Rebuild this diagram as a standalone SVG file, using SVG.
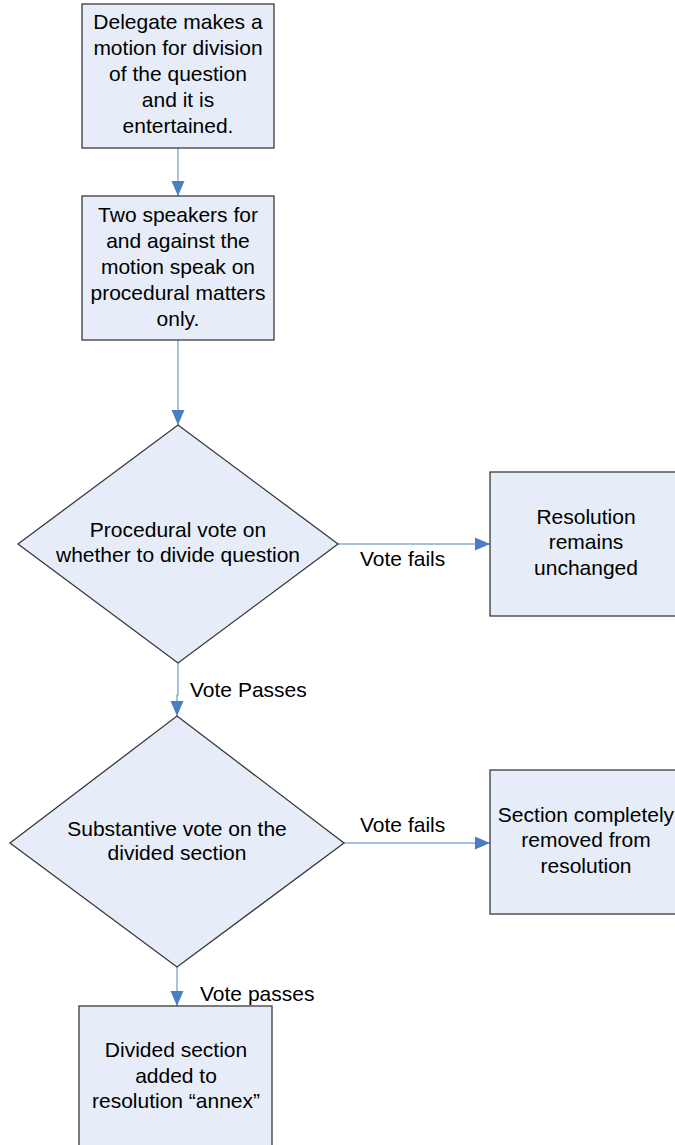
<svg xmlns="http://www.w3.org/2000/svg" width="675" height="1145" viewBox="0 0 675 1145">
<defs>
<style>
.box{fill:#E6EDF8;stroke:#3A3A3A;stroke-width:1.3}
.t{font-family:"Liberation Sans",Arial,sans-serif;font-size:21px;fill:#000;text-anchor:middle}
.l{font-family:"Liberation Sans",Arial,sans-serif;font-size:21px;fill:#000}
.v{fill:none;stroke:#95B3D7;stroke-width:1.6}
.h{fill:none;stroke:#4F81BD;stroke-width:1.2}
</style>
<marker id="ah" markerUnits="userSpaceOnUse" markerWidth="16" markerHeight="14" refX="15" refY="6.5" orient="auto">
<path d="M0,0 L15,6.5 L0,13 Z" fill="#4A7EC4"/>
</marker>
</defs>
<rect width="675" height="1145" fill="#fff"/>
<g id="connectors">
<path class="v" d="M178,148 V196" marker-end="url(#ah)"/>
<path class="v" d="M178,340 V425" marker-end="url(#ah)"/>
<path class="h" d="M338,544 H490" marker-end="url(#ah)"/>
<path class="v" d="M178,663 V695 H177 V716" marker-end="url(#ah)"/>
<path class="h" d="M344,843 H490" marker-end="url(#ah)"/>
<path class="v" d="M177,967 V1006" marker-end="url(#ah)"/>
<text class="l" x="360" y="566">Vote fails</text>
<text class="l" x="190" y="697">Vote Passes</text>
<text class="l" x="360" y="832">Vote fails</text>
<text class="l" x="200" y="1001">Vote passes</text>
</g>
<g id="n1">
<rect class="box" x="82" y="4" width="192" height="144"/>
<text class="t" x="178" y="29">Delegate makes a</text>
<text class="t" x="178" y="55">motion for division</text>
<text class="t" x="178" y="81">of the question</text>
<text class="t" x="178" y="107">and it is</text>
<text class="t" x="178" y="133">entertained.</text>
</g>
<g id="n2">
<rect class="box" x="82" y="196" width="192" height="144"/>
<text class="t" x="178" y="222">Two speakers for</text>
<text class="t" x="178" y="248">and against the</text>
<text class="t" x="178" y="274">motion speak on</text>
<text class="t" x="178" y="300">procedural matters</text>
<text class="t" x="178" y="326">only.</text>
</g>
<g id="d1">
<polygon class="box" points="178,425 338,544 178,663 18,544"/>
<text class="t" x="178" y="537">Procedural vote on</text>
<text class="t" x="178" y="562">whether to divide question</text>
</g>
<g id="n3">
<rect class="box" x="490" y="472" width="192" height="144"/>
<text class="t" x="586" y="524">Resolution</text>
<text class="t" x="586" y="549">remains</text>
<text class="t" x="586" y="575">unchanged</text>
</g>
<g id="d2">
<polygon class="box" points="177,716 344,843 177,967 10,843"/>
<text class="t" x="177" y="836">Substantive vote on the</text>
<text class="t" x="177" y="860">divided section</text>
</g>
<g id="n4">
<rect class="box" x="490" y="770" width="192" height="144"/>
<text class="t" x="586" y="822">Section completely</text>
<text class="t" x="586" y="847">removed from</text>
<text class="t" x="586" y="873">resolution</text>
</g>
<g id="n5">
<rect class="box" x="79" y="1006" width="193" height="150"/>
<text class="t" x="176" y="1057">Divided section</text>
<text class="t" x="176" y="1083">added to</text>
<text class="t" x="176" y="1108">resolution “annex”</text>
</g>
</svg>
